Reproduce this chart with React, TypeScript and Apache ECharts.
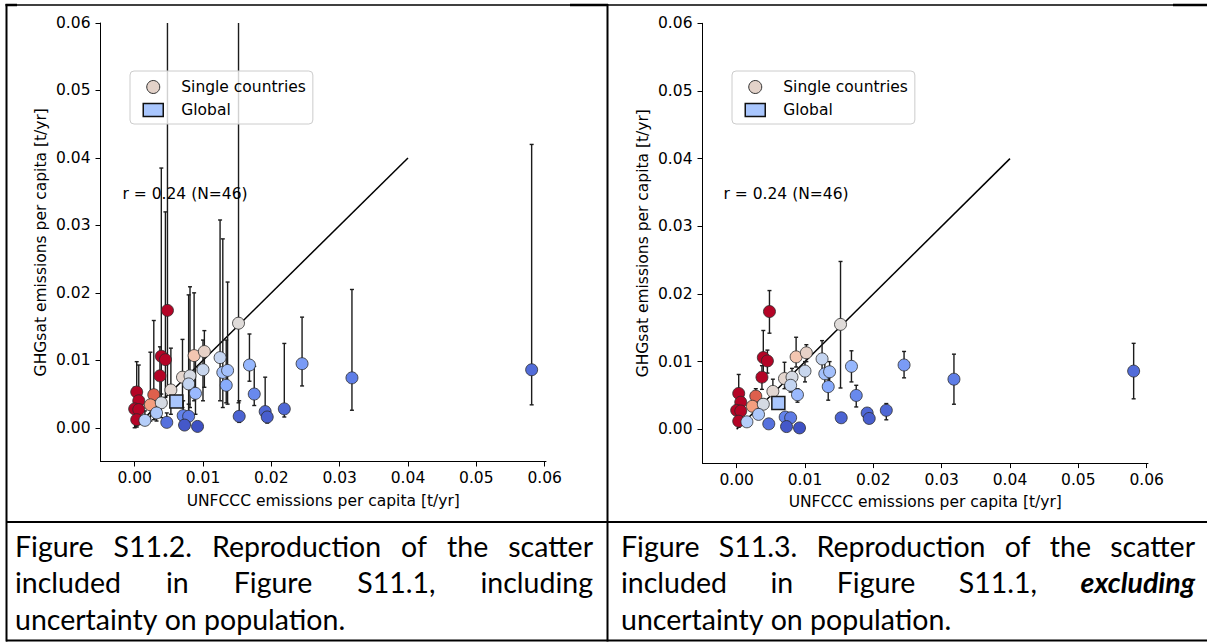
import React, { useEffect, useRef } from "react";
import * as echarts from "echarts";

// ---------- data ----------
const tickValues = [0, 0.01, 0.02, 0.03, 0.04, 0.05, 0.06];
const axisMin = -0.005;
const xAxisMax = 0.0602;
const yAxisMax = 0.06;

// single countries: UNFCCC per capita (x) and GHGsat per capita (y)
const countryX = [
  0.0048, 0.0039, 0.0045, 0.0037, 0.0003, 0.0006, 0.0, 0.0006, 0.0003, 0.0028,
  0.0023, 0.0087, 0.0102, 0.0152, 0.0053, 0.007, 0.0081, 0.0039, 0.0032, 0.0015,
  0.0079, 0.01, 0.0125, 0.0129, 0.0136, 0.0134, 0.0089, 0.0168, 0.0175, 0.0245,
  0.0318, 0.0581, 0.0047, 0.0071, 0.0079, 0.0073, 0.0092, 0.0153, 0.0191, 0.0194,
  0.0219,
];
const countryY = [
  0.0174, 0.0106, 0.0101, 0.0077, 0.0053, 0.004, 0.0028, 0.0027, 0.0012, 0.0049,
  0.0034, 0.0107, 0.0113, 0.0155, 0.0056, 0.0075, 0.0077, 0.0037, 0.0022, 0.0011,
  0.0065, 0.0086, 0.0104, 0.0082, 0.0085, 0.0063, 0.0051, 0.0093, 0.005, 0.0095,
  0.0074, 0.0086, 0.0008, 0.0018, 0.0017, 0.0004, 0.0002, 0.0017, 0.0024, 0.0016,
  0.0028,
];
// error bars, including uncertainty on population (Figure S11.2)
const lowWithPop = [
  0.0055, 0.005, 0.0045, 0.004, 0.0003, 0.0005, 0.0, 0.0005, 0.0001, 0.0012,
  0.001, 0.004, 0.006, 0.0037, 0.002, 0.003, 0.003, 0.0015, 0.001, 0.0004,
  0.002, 0.004, 0.004, 0.003, 0.0035, 0.0037, 0.002, 0.0069, 0.0033, 0.0062,
  0.0026, 0.0034, 0.0002, 0.0008, 0.0007, 0.0001, 0.0, 0.0008, 0.001, 0.0007,
  0.0016,
];
const highWithPop = [
  0.065, 0.0385, 0.032, 0.012, 0.0098, 0.0093, 0.006, 0.0055, 0.003, 0.0159,
  0.0112, 0.02, 0.0144, 0.065, 0.0118, 0.0131, 0.0209, 0.008, 0.005, 0.0025,
  0.0197, 0.013, 0.0308, 0.028, 0.0216, 0.013, 0.01, 0.0139, 0.0091, 0.0164,
  0.0205, 0.042, 0.0022, 0.004, 0.0035, 0.0012, 0.0006, 0.004, 0.0075, 0.003,
  0.0125,
];
// error bars, excluding uncertainty on population (Figure S11.3)
const lowNoPop = [
  0.0142, 0.0073, 0.0083, 0.0059, 0.003, 0.0025, 0.0018, 0.0019, 0.0003, 0.004,
  0.0028, 0.0092, 0.01, 0.0061, 0.0045, 0.006, 0.0065, 0.003, 0.0017, 0.0008,
  0.0055, 0.007, 0.0085, 0.0065, 0.007, 0.0043, 0.004, 0.007, 0.0033, 0.0076,
  0.0037, 0.0045, 0.0004, 0.0012, 0.0012, 0.0002, 0.0001, 0.0012, 0.0018, 0.0012,
  0.0014,
];
const highNoPop = [
  0.0205, 0.0146, 0.0117, 0.0094, 0.0081, 0.0055, 0.0035, 0.0034, 0.0016, 0.006,
  0.004, 0.0136, 0.0125, 0.0248, 0.0074, 0.0099, 0.009, 0.0045, 0.0027, 0.0013,
  0.0075, 0.01, 0.0131, 0.0103, 0.01, 0.0075, 0.006, 0.0116, 0.0065, 0.0115,
  0.0111, 0.0127, 0.0012, 0.0023, 0.0022, 0.0007, 0.0004, 0.0022, 0.003, 0.002,
  0.0038,
];
const globalX = [0.0061];
const globalY = [0.0039];
const identityX = [0, 0.04];
const identityY = [0, 0.04];

const corrLabel = "r = 0.24 (N=46)";
const xTitle = "UNFCCC emissions per capita [t/yr]";
const yTitle = "GHGsat emissions per capita [t/yr]";
const legendNames = ["Single countries", "Global"];

const captionLeft = [
  "Figure S11.2. Reproduction of the scatter",
  "included in Figure S11.1, including",
  "uncertainty on population.",
];
const captionRight = [
  "Figure S11.3. Reproduction of the scatter",
  "included in Figure S11.1, excluding",
  "uncertainty on population.",
];
const emphasised = ["excluding"];

// ---------- styling ----------
const FONT = "DejaVu Sans";
const CAP_FONT = "Lato";
const coolwarm = [
  "#3b4cc0", "#6282ea", "#8db0fe", "#b8d0f9", "#dddddd",
  "#f5c4ad", "#f49a7b", "#de604d", "#b40426",
];

const panels = [
  {
    grid: { left: 100.5, top: 23, width: 445.5, height: 438.5 },
    low: lowWithPop, high: highWithPop,
    legendLeft: 130, textX: 122.5,
    caption: captionLeft, capX0: 15, capX1: 593,
  },
  {
    grid: { left: 702.5, top: 23.3, width: 445.5, height: 439.8 },
    low: lowNoPop, high: highNoPop,
    legendLeft: 732, textX: 723.5,
    caption: captionRight, capX0: 621, capX1: 1195,
  },
];

function errorBarRender(params: any, api: any) {
  const x = api.value(0);
  const lo = api.value(1);
  const hi = api.value(2);
  const pLo = api.coord([x, lo]);
  const pHi = api.coord([x, hi]);
  const cs = params.coordSys;
  const top = cs.y;
  const bottom = cs.y + cs.height;
  const style = { stroke: "#1c1c1c", lineWidth: 1.4 };
  const children: any[] = [
    {
      type: "line",
      shape: { x1: pLo[0], y1: Math.min(pLo[1], bottom), x2: pHi[0], y2: Math.max(pHi[1], top) },
      style,
    },
  ];
  const cap = 2;
  if (pHi[1] >= top) {
    children.push({ type: "line", shape: { x1: pHi[0] - cap, y1: pHi[1], x2: pHi[0] + cap, y2: pHi[1] }, style });
  }
  if (pLo[1] <= bottom) {
    children.push({ type: "line", shape: { x1: pLo[0] - cap, y1: pLo[1], x2: pLo[0] + cap, y2: pLo[1] }, style });
  }
  return { type: "group", children };
}

function buildCaption(lines: string[], x0: number, x1: number, ctx: CanvasRenderingContext2D) {
  const size = 28.5;
  const baselines = [556, 592.5, 629];
  const els: any[] = [];
  lines.forEach((line, li) => {
    const words = line.split(" ");
    const fonts = words.map((w) =>
      emphasised.includes(w) ? `italic bold ${size}px ${CAP_FONT}` : `normal normal ${size}px ${CAP_FONT}`
    );
    const widths = words.map((w, i) => {
      ctx.font = fonts[i];
      return ctx.measureText(w).width;
    });
    ctx.font = `${size}px ${CAP_FONT}`;
    const space = ctx.measureText(" ").width;
    const total = widths.reduce((a, b) => a + b, 0);
    const last = li === lines.length - 1;
    const gap = last ? space : (x1 - x0 - total) / (words.length - 1);
    let cx = x0;
    words.forEach((w, i) => {
      const emph = emphasised.includes(w);
      els.push({
        type: "text",
        x: cx,
        y: baselines[li] - 0.36 * size,
        z: 200,
        style: {
          text: w,
          fill: "#000",
          fontSize: size,
          fontFamily: CAP_FONT,
          fontWeight: emph ? "bold" : "normal",
          fontStyle: emph ? "italic" : "normal",
          align: "left",
          textAlign: "left",
          verticalAlign: "middle",
          textVerticalAlign: "middle",
        },
      });
      cx += widths[i] + gap;
    });
  });
  return els;
}

function hLine(x1: number, x2: number, y: number, w: number) {
  return { type: "line", z: 300, shape: { x1, y1: y, x2, y2: y }, style: { stroke: "#000", lineWidth: w } };
}
function vLine(x: number, y1: number, y2: number, w: number) {
  return { type: "line", z: 300, shape: { x1: x, y1, x2: x, y2 }, style: { stroke: "#000", lineWidth: w } };
}

export default function App() {
  const ref = useRef<HTMLDivElement>(null);

  useEffect(() => {
    if (!ref.current) return;
    const chart = echarts.init(ref.current, null, { renderer: "svg" });
    const canvas = document.createElement("canvas");
    const ctx = canvas.getContext("2d") as CanvasRenderingContext2D;

    const labelStyle = { fontSize: 15.5, fontFamily: FONT, color: "#000" };

    const grid = panels.map((p) => ({ ...p.grid }));
    const xAxis = panels.map((p, i) => ({
      type: "value",
      gridIndex: i,
      min: axisMin,
      max: xAxisMax,
      name: xTitle,
      nameLocation: "middle",
      nameGap: 31,
      nameTextStyle: labelStyle,
      axisLine: { show: true, onZero: false, lineStyle: { color: "#000", width: 1 } },
      axisTick: { show: true, length: 5, customValues: tickValues, lineStyle: { color: "#000", width: 1 } },
      axisLabel: { customValues: tickValues, formatter: (v: number) => v.toFixed(2), margin: 8.5, ...labelStyle },
      splitLine: { show: false },
    }));
    const yAxis = panels.map((p, i) => ({
      type: "value",
      gridIndex: i,
      min: axisMin,
      max: yAxisMax,
      name: yTitle,
      nameLocation: "middle",
      nameGap: 52,
      nameTextStyle: labelStyle,
      axisLine: { show: true, onZero: false, lineStyle: { color: "#000", width: 1 } },
      axisTick: { show: true, length: 5, customValues: tickValues, lineStyle: { color: "#000", width: 1 } },
      axisLabel: { customValues: tickValues, formatter: (v: number) => v.toFixed(2), margin: 10, ...labelStyle },
      splitLine: { show: false },
    }));

    const series: any[] = [];
    panels.forEach((p, i) => {
      series.push({
        type: "line",
        name: "1:1",
        xAxisIndex: i,
        yAxisIndex: i,
        data: identityX.map((x, k) => [x, identityY[k]]),
        symbol: "none",
        lineStyle: { color: "#000", width: 1.5 },
        silent: true,
        z: 2,
      });
      series.push({
        type: "custom",
        name: "uncertainty",
        xAxisIndex: i,
        yAxisIndex: i,
        data: countryX.map((x, k) => [x, p.low[k], p.high[k]]),
        encode: { x: 0, y: [1, 2] },
        renderItem: errorBarRender,
        clip: false,
        silent: true,
        z: 3,
      });
      series.push({
        type: "scatter",
        name: legendNames[0],
        xAxisIndex: i,
        yAxisIndex: i,
        data: countryX.map((x, k) => [x, countryY[k], x > 0 ? Math.min(countryY[k] / x, 2) : 2]),
        symbol: "circle",
        symbolSize: 12,
        itemStyle: { color: "#e3d2c9", borderColor: "#2b2b2b", borderWidth: 0.8, opacity: 1 },
        z: 4,
      });
      series.push({
        type: "scatter",
        name: legendNames[1],
        xAxisIndex: i,
        yAxisIndex: i,
        data: globalX.map((x, k) => [x, globalY[k]]),
        symbol: "rect",
        symbolSize: 13,
        itemStyle: { color: "#a9c6fd", borderColor: "#1a1a1a", borderWidth: 1.5, opacity: 1 },
        z: 5,
      });
    });

    const legend = panels.map((p) => ({
      left: p.legendLeft,
      top: 71,
      orient: "vertical",
      selectedMode: false,
      itemWidth: 20,
      itemHeight: 13,
      itemGap: 5,
      padding: [7, 7, 5, 12.5],
      backgroundColor: "rgba(255,255,255,0.8)",
      borderColor: "#cccccc",
      borderWidth: 1,
      borderRadius: 4,
      textStyle: { fontSize: 15.5, fontFamily: FONT, color: "#000", lineHeight: 18, padding: [0, 0, 0, 13] },
      data: [
        { name: legendNames[0], icon: "circle", itemStyle: { color: "#e3d2c9", borderColor: "#333", borderWidth: 1 } },
        { name: legendNames[1], icon: "rect", itemStyle: { color: "#a9c6fd", borderColor: "#111", borderWidth: 1.5 } },
      ],
    }));

    const graphic: any[] = [];
    panels.forEach((p) => {
      graphic.push({
        type: "text",
        x: p.textX,
        y: 194.3,
        z: 10,
        style: {
          text: corrLabel,
          fill: "#000",
          fontSize: 15.5,
          fontFamily: FONT,
          align: "left",
          textAlign: "left",
          verticalAlign: "middle",
          textVerticalAlign: "middle",
        },
      });
      graphic.push(...buildCaption(p.caption, p.capX0, p.capX1, ctx));
    });
    // table borders
    graphic.push(hLine(6, 1207, 5, 1.3));
    graphic.push(hLine(5.5, 17, 5, 2.5));
    graphic.push(hLine(570, 608, 5, 2.5));
    graphic.push(hLine(1173, 1207, 5, 2.5));
    graphic.push(vLine(6.5, 4, 641.5, 2));
    graphic.push(vLine(607.5, 4, 641.5, 2));
    graphic.push(hLine(6, 1207, 522, 2));
    graphic.push(hLine(6, 1207, 640.5, 2));

    chart.setOption({
      animation: false,
      backgroundColor: "#ffffff",
      grid,
      xAxis,
      yAxis,
      legend,
      visualMap: [
        {
          type: "continuous",
          show: false,
          min: 0,
          max: 2,
          dimension: 2,
          seriesIndex: [2, 6],
          inRange: { color: coolwarm },
        },
      ],
      series,
      graphic,
    });

    return () => chart.dispose();
  }, []);

  return (
    <div
      ref={ref}
      style={{ position: "fixed", left: 0, top: 0, width: 1207, height: 643, background: "#fff" }}
    />
  );
}
